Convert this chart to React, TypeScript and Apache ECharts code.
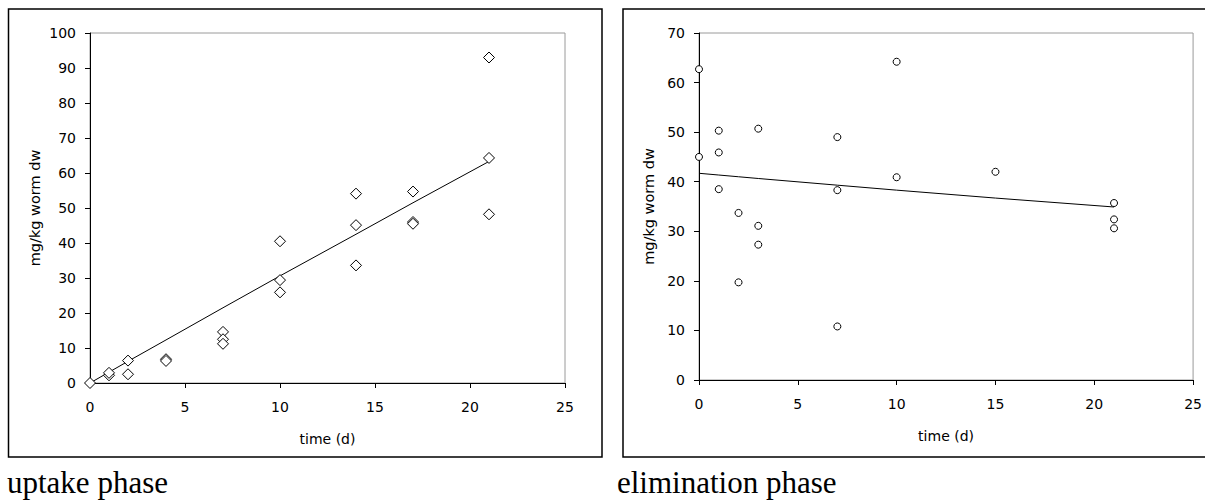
import React, { useEffect, useRef } from "react";
import * as echarts from "echarts";

// Uptake phase: measured concentrations
const uptakeTime = [0, 1, 1, 2, 2, 4, 4, 7, 7, 7, 10, 10, 10, 14, 14, 14, 17, 17, 17, 21, 21, 21];
const uptakeConc = [0, 2.2, 2.9, 6.4, 2.5, 6.8, 6.3, 14.6, 12.5, 11.2, 40.5, 29.4, 25.9, 54.1, 45.1, 33.6, 54.7, 46.0, 45.5, 93.0, 64.3, 48.2];
// Uptake phase: fitted curve
const uptakeFitTime = [0, 1, 2, 4, 7, 10, 14, 17, 21];
const uptakeFit = [0, 3.1, 6.2, 12.3, 21.5, 30.6, 42.5, 51.5, 63.3];

// Elimination phase: measured concentrations
const elimTime = [0, 0, 1, 1, 1, 2, 2, 3, 3, 3, 7, 7, 7, 10, 10, 15, 21, 21, 21];
const elimConc = [62.7, 45.0, 50.3, 45.9, 38.5, 33.7, 19.7, 50.7, 31.1, 27.3, 49.0, 38.3, 10.8, 64.2, 40.9, 42.0, 35.7, 32.4, 30.6];
// Elimination phase: fitted curve
const elimFitTime = [0, 1, 2, 3, 7, 10, 15, 21];
const elimFit = [41.7, 41.35, 41.0, 40.65, 39.3, 38.3, 36.7, 34.9];

const panelTitles = ["uptake phase", "elimination phase"];
const xAxisTitle = "time (d)";
const yAxisTitle = "mg/kg worm dw";

const zip = (a: number[], b: number[]) => a.map((v, i) => [v, b[i]]);

const FONT = "DejaVu Sans";

function makeXAxis(gridIndex: number) {
  return {
    type: "value",
    gridIndex,
    min: 0,
    max: 25,
    interval: 5,
    name: xAxisTitle,
    nameLocation: "middle",
    nameGap: 49,
    nameTextStyle: { color: "#000", fontFamily: FONT, fontSize: 14 },
    axisLine: { show: true, onZero: false, lineStyle: { color: "#000", width: 1 } },
    axisTick: { show: true, inside: false, length: 5, lineStyle: { color: "#000" } },
    axisLabel: { color: "#000", fontFamily: FONT, fontSize: 14, margin: 17 },
    splitLine: { show: false },
  };
}

function makeYAxis(gridIndex: number, max: number, nameGap: number) {
  return {
    type: "value",
    gridIndex,
    min: 0,
    max,
    interval: 10,
    name: yAxisTitle,
    nameLocation: "middle",
    nameGap,
    nameTextStyle: { color: "#000", fontFamily: FONT, fontSize: 14.5 },
    axisLine: { show: true, onZero: false, lineStyle: { color: "#000", width: 1 } },
    axisTick: { show: true, inside: false, length: 5, lineStyle: { color: "#000" } },
    axisLabel: { color: "#000", fontFamily: FONT, fontSize: 14, margin: 14 },
    splitLine: { show: false },
  };
}

export default function App() {
  const ref = useRef<HTMLDivElement>(null);

  useEffect(() => {
    if (!ref.current) return;
    const chart = echarts.init(ref.current, undefined, { renderer: "svg" });
    chart.setOption({
      animation: false,
      backgroundColor: "#fff",
      grid: [
        { left: 90, top: 33, width: 475, height: 350, show: true, borderColor: "#9a9a9a", borderWidth: 1, backgroundColor: "transparent" },
        { left: 699, top: 33, width: 495, height: 347, show: true, borderColor: "#9a9a9a", borderWidth: 1, backgroundColor: "transparent" },
      ],
      xAxis: [makeXAxis(0), makeXAxis(1)],
      yAxis: [makeYAxis(0, 100, 48), makeYAxis(1, 70, 43)],
      series: [
        {
          type: "line",
          xAxisIndex: 0,
          yAxisIndex: 0,
          data: zip(uptakeFitTime, uptakeFit),
          showSymbol: false,
          symbol: "none",
          lineStyle: { color: "#000", width: 1 },
          z: 2,
        },
        {
          type: "scatter",
          xAxisIndex: 0,
          yAxisIndex: 0,
          data: zip(uptakeTime, uptakeConc),
          symbol: "diamond",
          symbolSize: 11,
          clip: false,
          itemStyle: { color: "#fff", borderColor: "#000", borderWidth: 1, opacity: 1 },
          z: 3,
        },
        {
          type: "line",
          xAxisIndex: 1,
          yAxisIndex: 1,
          data: zip(elimFitTime, elimFit),
          showSymbol: false,
          symbol: "none",
          lineStyle: { color: "#000", width: 1 },
          z: 2,
        },
        {
          type: "scatter",
          xAxisIndex: 1,
          yAxisIndex: 1,
          data: zip(elimTime, elimConc),
          symbol: "circle",
          symbolSize: 7,
          clip: false,
          itemStyle: { color: "#fff", borderColor: "#000", borderWidth: 1, opacity: 1 },
          z: 3,
        },
      ],
      graphic: [
        {
          type: "rect",
          shape: { x: 8.5, y: 9, width: 593.5, height: 448 },
          style: { fill: "none", stroke: "#000", lineWidth: 1.5 },
          silent: true,
          z: 0,
        },
        {
          type: "rect",
          shape: { x: 623, y: 9, width: 620, height: 448 },
          style: { fill: "none", stroke: "#000", lineWidth: 1.5 },
          silent: true,
          z: 0,
        },
        {
          type: "text",
          x: 7,
          y: 482,
          style: {
            text: panelTitles[0],
            font: '31px "Liberation Serif", "Times New Roman", serif',
            fill: "#000",
            verticalAlign: "middle",
            align: "left",
          },
          silent: true,
        },
        {
          type: "text",
          x: 617,
          y: 482,
          style: {
            text: panelTitles[1],
            font: '31px "Liberation Serif", "Times New Roman", serif',
            fill: "#000",
            verticalAlign: "middle",
            align: "left",
          },
          silent: true,
        },
      ],
    });
    return () => chart.dispose();
  }, []);

  return (
    <div
      ref={ref}
      style={{ position: "fixed", left: 0, top: 0, width: 1205, height: 503, background: "#fff" }}
    />
  );
}
